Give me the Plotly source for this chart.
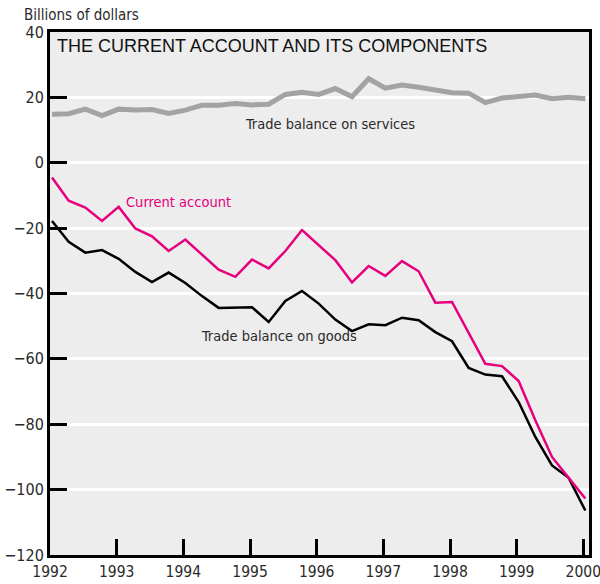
import plotly.graph_objects as go

# Quarterly data, 1992 Q1 through 2000 Q1 (billions of dollars)
years = [1992] * 4 + [1993] * 4 + [1994] * 4 + [1995] * 4 + [1996] * 4 + \
        [1997] * 4 + [1998] * 4 + [1999] * 4 + [2000]
quarters = [1, 2, 3, 4] * 8 + [1]

services = [14.8, 15.0, 16.4, 14.4, 16.4, 16.1, 16.3, 15.1, 16.1, 17.6, 17.6,
            18.1, 17.7, 17.9, 20.9, 21.6, 20.9, 22.7, 20.2, 25.7, 22.8, 23.8,
            23.1, 22.1, 21.4, 21.3, 18.4, 19.8, 20.4, 20.7, 19.6, 20.0, 19.6]
current_account = [-4.5, -11.6, -13.7, -17.8, -13.5, -20.1, -22.5, -27.0,
                   -23.5, -28.0, -32.7, -34.9, -29.6, -32.3, -27.0, -20.6,
                   -25.2, -29.8, -36.6, -31.6, -34.6, -30.1, -33.2, -42.8,
                   -42.6, -52.0, -61.5, -62.2, -66.8, -78.8, -90.0, -96.4,
                   -102.7]
goods = [-17.8, -24.2, -27.5, -26.7, -29.4, -33.4, -36.5, -33.6, -36.8,
         -40.8, -44.4, -44.4, -44.2, -48.7, -42.3, -39.2, -43.1, -48.0,
         -51.5, -49.4, -49.7, -47.4, -48.2, -51.8, -54.6, -62.8, -64.8,
         -65.3, -73.2, -83.9, -92.6, -96.4, -106.4]

year_ticks = [1992, 1993, 1994, 1995, 1996, 1997, 1998, 1999, 2000]
value_ticks = [40, 20, 0, -20, -40, -60, -80, -100, -120]

# each quarter plotted just after the start of its period
x = [y + (q - 1) / 4 + 0.03 for y, q in zip(years, quarters)]

LABEL_FONT = "DejaVu Sans Condensed, Liberation Sans Narrow, Arial Narrow, sans-serif"
PINK = "#e6007e"
GRAY = "#a3a3a3"
TEXT = "#2a2a2a"

fig = go.Figure()
fig.add_trace(go.Scatter(x=x, y=services, mode="lines",
                         line=dict(color=GRAY, width=5), hoverinfo="skip"))
fig.add_trace(go.Scatter(x=x, y=goods, mode="lines",
                         line=dict(color="black", width=2.5), hoverinfo="skip"))
fig.add_trace(go.Scatter(x=x, y=current_account, mode="lines",
                         line=dict(color=PINK, width=2.5), hoverinfo="skip"))

fig.update_layout(
    width=600, height=584,
    margin=dict(l=50, r=11, t=32, b=29),
    paper_bgcolor="white",
    plot_bgcolor="#ededed",
    showlegend=False,
    font=dict(family=LABEL_FONT, size=16, color=TEXT),
)

fig.update_xaxes(
    range=[1992, 2000.085],
    tickvals=year_ticks,
    ticktext=[str(v) for v in year_ticks],
    ticks="inside", ticklen=16, tickwidth=3, tickcolor="black",
    showline=True, linecolor="black", linewidth=3, mirror=True,
    showgrid=False, zeroline=False, automargin=False,
    ticklabeloverflow="allow",
    tickfont=dict(family=LABEL_FONT, size=15.5, color=TEXT),
)
fig.update_yaxes(
    range=[-120, 40],
    tickvals=value_ticks,
    ticktext=[("\u2212" + str(-v)) if v < 0 else str(v) for v in value_ticks],
    ticks="inside", ticklen=17, tickwidth=3, tickcolor="black",
    showline=True, linecolor="black", linewidth=3, mirror=True,
    showgrid=True, gridcolor="white", gridwidth=2.5, zeroline=False,
    automargin=False, ticklabeloverflow="allow",
    tickfont=dict(family=LABEL_FONT, size=16, color=TEXT),
)

annotations = [
    dict(text="Billions of dollars", xref="paper", yref="paper",
         x=0, y=1.0, xshift=-28, yshift=17, xanchor="left", yanchor="middle",
         font=dict(family=LABEL_FONT, size=15, color=TEXT)),
    dict(text="THE CURRENT ACCOUNT AND ITS COMPONENTS", xref="paper", yref="paper",
         x=0, y=1.0, xshift=5, yshift=-14, xanchor="left", yanchor="middle",
         font=dict(family="Liberation Sans, Arial, sans-serif", size=18, color="#111")),
    dict(text="Trade balance on services", x=1996.2, y=12.0,
         xanchor="center", yanchor="middle",
         font=dict(family=LABEL_FONT, size=14.5, color=TEXT)),
    dict(text="Current account", x=1993.93, y=-12.0,
         xanchor="center", yanchor="middle",
         font=dict(family=LABEL_FONT, size=14.5, color=PINK)),
    dict(text="Trade balance on goods", x=1995.43, y=-53.0,
         xanchor="center", yanchor="middle",
         font=dict(family=LABEL_FONT, size=14.5, color=TEXT)),
]
for a in annotations:
    a["showarrow"] = False
fig.update_layout(annotations=annotations)

fig.write_html("out.html")
